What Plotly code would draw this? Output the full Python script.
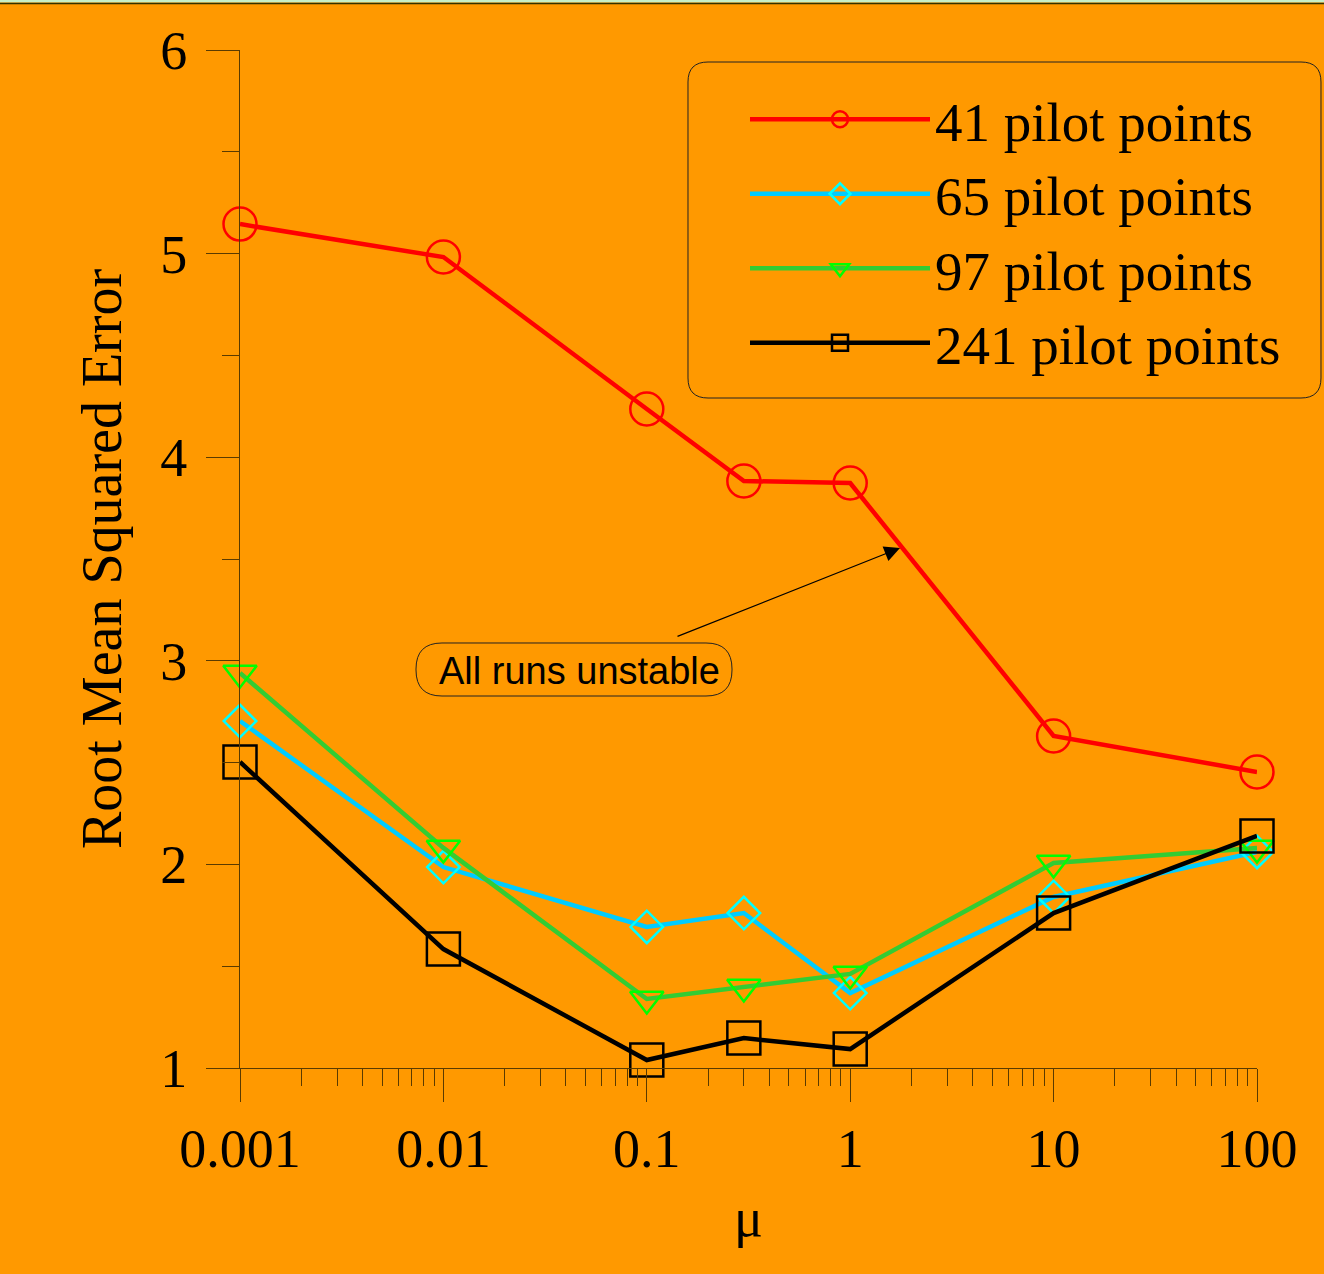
import plotly.graph_objects as go

# ---------------- data ----------------
mu = [0.001, 0.01, 0.1, 0.3, 1, 10, 100]
rmse_41 = [5.145, 4.983, 4.237, 3.883, 3.873, 2.631, 2.454]
rmse_65 = [2.704, 1.987, 1.693, 1.761, 1.368, 1.840, 2.061]
rmse_97 = [2.940, 2.081, 1.339, 1.398, 1.462, 2.007, 2.081]
rmse_241 = [2.503, 1.584, 1.039, 1.147, 1.093, 1.761, 2.140]
series_names = ["41 pilot points", "65 pilot points", "97 pilot points", "241 pilot points"]
x_tick_vals = [0.001, 0.01, 0.1, 1, 10, 100]
x_tick_text = ["0.001", "0.01", "0.1", "1", "10", "100"]
y_tick_vals = [1, 2, 3, 4, 5, 6]

# ---------------- styling ----------------
W, H = 1324, 1274
ML, MR, MT, MB = 240, 67, 50, 206
PW, PH = W - ML - MR, H - MT - MB
BG = "#FF9900"
AX = "#5a3b00"
SERIF = "Liberation Serif, Times New Roman, serif"
SANS = "Liberation Sans, Arial, sans-serif"

def px2paper(px, py):
    return (px - ML) / PW, (H - MB - py) / PH

def rounded_path(x0, y0, x1, y1, r):
    def P(x, y):
        a, b = px2paper(x, y)
        return f"{a:.5f},{b:.5f}"
    return (f"M {P(x0 + r, y0)} L {P(x1 - r, y0)} Q {P(x1, y0)} {P(x1, y0 + r)} "
            f"L {P(x1, y1 - r)} Q {P(x1, y1)} {P(x1 - r, y1)} "
            f"L {P(x0 + r, y1)} Q {P(x0, y1)} {P(x0, y1 - r)} "
            f"L {P(x0, y0 + r)} Q {P(x0, y0)} {P(x0 + r, y0)} Z")

styles = [
    dict(line="#FF0000", marker="#FF0000", symbol="circle-open", size=33),
    dict(line="#00CCFF", marker="#00FFFF", symbol="diamond-open", size=25),
    dict(line="#33CC33", marker="#00FF00", symbol="triangle-down-open", size=29),
    dict(line="#000000", marker="#000000", symbol="square-open", size=33),
]
series = [rmse_41, rmse_65, rmse_97, rmse_241]

fig = go.Figure()
for name, ys, st in zip(series_names, series, styles):
    fig.add_trace(go.Scatter(
        x=mu, y=ys, name=name, mode="lines+markers", cliponaxis=False,
        line=dict(color=st["line"], width=4.5),
        marker=dict(symbol=st["symbol"], size=st["size"], color=st["marker"],
                    line=dict(color=st["marker"], width=2.5)),
    ))

minor_x = [m * 10 ** e for e in range(-3, 2) for m in range(2, 10)]

fig.update_layout(
    width=W, height=H,
    margin=dict(l=ML, r=MR, t=MT, b=MB),
    paper_bgcolor=BG, plot_bgcolor=BG,
    font=dict(family=SERIF, size=54, color="black"),
    showlegend=True,
    legend=dict(
        x=px2paper(745, 0)[0], y=px2paper(0, 77)[1], xanchor="left", yanchor="top",
        bgcolor="rgba(0,0,0,0)", borderwidth=0,
        font=dict(family=SERIF, size=55, color="black"),
        itemwidth=180, tracegroupgap=0,
    ),
    xaxis=dict(
        type="log", range=[-3, 2],
        tickvals=x_tick_vals, ticktext=x_tick_text,
        ticks="outside", ticklen=33, tickwidth=1, tickcolor=AX,
        showline=True, linecolor=AX, linewidth=1,
        showgrid=False, zeroline=False,
        minor=dict(tickvals=minor_x, ticks="outside", ticklen=17, tickwidth=1,
                   tickcolor=AX, showgrid=False),
        tickfont=dict(family=SERIF, size=54),
        title=dict(text="μ", font=dict(family=SERIF, size=54), standoff=20),
    ),
    yaxis=dict(
        range=[1, 6], tickvals=y_tick_vals,
        ticks="outside", ticklen=33, tickwidth=1, tickcolor=AX,
        showline=True, linecolor=AX, linewidth=1,
        showgrid=False, zeroline=False,
        minor=dict(dtick=0.5, ticks="outside", ticklen=17, tickwidth=1,
                   tickcolor=AX, showgrid=False),
        tickfont=dict(family=SERIF, size=54),
        ticklabelstandoff=8,
        title=dict(text="Root Mean Squared Error", font=dict(family=SERIF, size=56), standoff=20),
    ),
)

shapes = [
    dict(type="path", xref="paper", yref="paper", path=rounded_path(688, 62, 1321, 398, 20),
         line=dict(color="#222", width=1), fillcolor="rgba(0,0,0,0)", layer="below"),
    dict(type="path", xref="paper", yref="paper", path=rounded_path(416, 643, 732, 696, 26),
         line=dict(color="#222", width=1), fillcolor="rgba(0,0,0,0)"),
]
a0, b0 = px2paper(0, 0)
a1, b1 = px2paper(W, 2.5)
shapes.append(dict(type="rect", xref="paper", yref="paper", x0=a0, x1=a1, y0=b1, y1=b0,
                   fillcolor="#c8f0c8", line=dict(width=0)))
_, bl = px2paper(0, 3.5)
shapes.append(dict(type="line", xref="paper", yref="paper", x0=a0, x1=a1, y0=bl, y1=bl,
                   line=dict(color="#333300", width=1.5)))
fig.update_layout(shapes=shapes)

tx, ty = px2paper(579, 671)
hx, hy = px2paper(900, 548)
fig.add_annotation(x=tx, y=ty, xref="paper", yref="paper", text="All runs unstable",
                   showarrow=False, font=dict(family=SANS, size=38, color="black"))
fig.add_annotation(x=hx, y=hy, xref="paper", yref="paper", text="",
                   showarrow=True, ax=-224, ay=89, arrowhead=2, arrowsize=2.6,
                   arrowwidth=1.2, arrowcolor="black", standoff=0)

fig.write_html("out.html", config={"displayModeBar": False},
               post_script="document.body.style.margin='0';document.body.style.background='#FF9900';")
